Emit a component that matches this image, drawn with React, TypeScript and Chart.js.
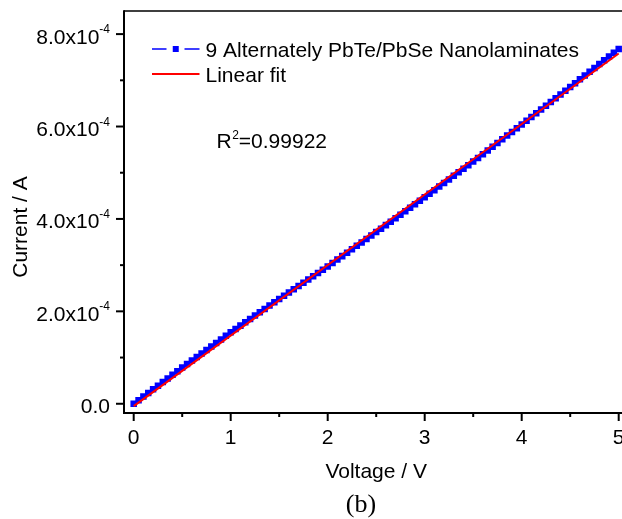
import { useEffect, useRef } from "react";
import { Chart, registerables } from "chart.js";

Chart.register(...registerables);

// Voltage (V)
const voltage = [
  0, 0.05, 0.1, 0.15, 0.2, 0.25, 0.3, 0.35, 0.4, 0.45,
  0.5, 0.55, 0.6, 0.65, 0.7, 0.75, 0.8, 0.85, 0.9, 0.95,
  1, 1.05, 1.1, 1.15, 1.2, 1.25, 1.3, 1.35, 1.4, 1.45,
  1.5, 1.55, 1.6, 1.65, 1.7, 1.75, 1.8, 1.85, 1.9, 1.95,
  2, 2.05, 2.1, 2.15, 2.2, 2.25, 2.3, 2.35, 2.4, 2.45,
  2.5, 2.55, 2.6, 2.65, 2.7, 2.75, 2.8, 2.85, 2.9, 2.95,
  3, 3.05, 3.1, 3.15, 3.2, 3.25, 3.3, 3.35, 3.4, 3.45,
  3.5, 3.55, 3.6, 3.65, 3.7, 3.75, 3.8, 3.85, 3.9, 3.95,
  4, 4.05, 4.1, 4.15, 4.2, 4.25, 4.3, 4.35, 4.4, 4.45,
  4.5, 4.55, 4.6, 4.65, 4.7, 4.75, 4.8, 4.85, 4.9, 4.95,
  5,
];

// Current (in 10^-6 A)
const current = [
  0, 7.8, 15.7, 23.5, 31.3, 39.2, 47.0, 54.8, 62.6, 70.5,
  78.3, 85.9, 93.6, 101.2, 108.8, 116.5, 124.1, 131.7, 139.3, 147.0,
  154.6, 161.8, 169.1, 176.3, 183.5, 190.8, 198.0, 205.2, 212.4, 219.7,
  226.9, 233.9, 241.0, 248.0, 255.0, 262.1, 269.1, 276.1, 283.1, 290.2,
  297.2, 304.6, 312.1, 319.5, 326.9, 334.4, 341.8, 349.2, 356.6, 364.1,
  371.5, 379.0, 386.6, 394.1, 401.6, 409.2, 416.7, 424.2, 431.7, 439.3,
  446.8, 454.5, 462.3, 470.0, 477.7, 485.5, 493.2, 500.9, 508.6, 516.4,
  524.1, 532.1, 540.2, 548.2, 556.2, 564.3, 572.3, 580.3, 588.3, 596.4,
  604.4, 612.5, 620.7, 628.8, 636.9, 645.1, 653.2, 661.3, 669.4, 677.6,
  685.7, 693.9, 702.2, 710.4, 718.6, 726.9, 735.1, 743.3, 751.5, 759.8,
  768,
];

// Linear fit end points (V, 10^-6 A)
const fitVoltage = [0, 5];
const fitCurrent = [-5, 758];

const xMajorTicks = [0, 1, 2, 3, 4, 5];
const xTickLabels = ["0", "1", "2", "3", "4", "5"];
const xMinorTicks = [0.5, 1.5, 2.5, 3.5, 4.5];

const yMajorTicks = [0, 200, 400, 600, 800];
const yTickMantissa = ["0.0", "2.0x10", "4.0x10", "6.0x10", "8.0x10"];
const yTickExponent = ["", "-4", "-4", "-4", "-4"];
const yMinorTicks = [100, 300, 500, 700];

const seriesLabel = "9 Alternately PbTe/PbSe Nanolaminates";
const fitLabel = "Linear fit";
const xTitle = "Voltage / V";
const yTitle = "Current / A";
const rSquaredValue = "=0.99922";
const panelLabel = "(b)";

const SANS = "'Liberation Sans', Arial, Helvetica, sans-serif";
const SERIF = "'Liberation Serif', 'Times New Roman', serif";

const decorPlugin = {
  id: "decor",
  afterDraw(chart: any) {
    const ctx = chart.ctx as CanvasRenderingContext2D;
    const area = chart.chartArea;
    const xs = chart.scales.x;
    const ys = chart.scales.y;
    ctx.save();
    ctx.strokeStyle = "#000";
    ctx.fillStyle = "#000";

    // frame
    ctx.lineWidth = 1.5;
    ctx.beginPath();
    ctx.moveTo(area.left, area.top);
    ctx.lineTo(area.right, area.top);
    ctx.lineTo(area.right, area.bottom);
    ctx.stroke();
    ctx.lineWidth = 2;
    ctx.beginPath();
    ctx.moveTo(area.left, area.top - 0.75);
    ctx.lineTo(area.left, area.bottom);
    ctx.lineTo(area.right, area.bottom);
    ctx.stroke();

    // y ticks
    ctx.lineWidth = 2;
    yMajorTicks.forEach((v) => {
      const y = ys.getPixelForValue(v);
      ctx.beginPath();
      ctx.moveTo(area.left - 8, y);
      ctx.lineTo(area.left, y);
      ctx.stroke();
    });
    yMinorTicks.forEach((v) => {
      const y = ys.getPixelForValue(v);
      ctx.beginPath();
      ctx.moveTo(area.left - 4, y);
      ctx.lineTo(area.left, y);
      ctx.stroke();
    });
    // x ticks
    xMajorTicks.forEach((v) => {
      const x = xs.getPixelForValue(v);
      ctx.beginPath();
      ctx.moveTo(x, area.bottom);
      ctx.lineTo(x, area.bottom + 8);
      ctx.stroke();
    });
    xMinorTicks.forEach((v) => {
      const x = xs.getPixelForValue(v);
      ctx.beginPath();
      ctx.moveTo(x, area.bottom);
      ctx.lineTo(x, area.bottom + 4);
      ctx.stroke();
    });

    // y tick labels
    const labelRight = area.left - 14;
    ctx.textBaseline = "alphabetic";
    yMajorTicks.forEach((v, i) => {
      const y = ys.getPixelForValue(v);
      const exp = yTickExponent[i];
      ctx.font = `12px ${SANS}`;
      const ew = exp ? ctx.measureText(exp).width : 0;
      if (exp) {
        ctx.textAlign = "right";
        ctx.fillText(exp, labelRight, y - 1);
      }
      ctx.font = `21px ${SANS}`;
      ctx.textAlign = "right";
      ctx.fillText(yTickMantissa[i], labelRight - ew, y + 9.5);
    });

    // x tick labels
    ctx.font = `21px ${SANS}`;
    ctx.textAlign = "center";
    xMajorTicks.forEach((v, i) => {
      const x = xs.getPixelForValue(v);
      ctx.fillText(xTickLabels[i], x, area.bottom + 31);
    });

    // axis titles
    ctx.fillText(xTitle, (area.left + area.right) / 2, area.bottom + 65);
    ctx.save();
    ctx.translate(27, (area.top + area.bottom) / 2 + 15);
    ctx.rotate(-Math.PI / 2);
    ctx.textAlign = "center";
    ctx.fillText(yTitle, 0, 0);
    ctx.restore();

    // panel label
    ctx.font = `26px ${SERIF}`;
    ctx.textAlign = "center";
    ctx.fillText(panelLabel, 361, 512);

    // legend
    const lx0 = 152;
    const lx1 = 199.5;
    const ly0 = 49;
    const ly1 = 74;
    ctx.strokeStyle = "#0000ff";
    ctx.fillStyle = "#0000ff";
    ctx.lineWidth = 1.5;
    ctx.beginPath();
    ctx.moveTo(lx0, ly0);
    ctx.lineTo(lx0 + 14.5, ly0);
    ctx.moveTo(lx1 - 15, ly0);
    ctx.lineTo(lx1, ly0);
    ctx.stroke();
    ctx.fillRect((lx0 + lx1) / 2 - 3, ly0 - 3, 6, 6);
    ctx.strokeStyle = "#ff0000";
    ctx.lineWidth = 2;
    ctx.beginPath();
    ctx.moveTo(lx0, ly1);
    ctx.lineTo(lx1, ly1);
    ctx.stroke();
    ctx.fillStyle = "#000";
    ctx.font = `21px ${SANS}`;
    ctx.textAlign = "left";
    ctx.fillText(seriesLabel, 205.5, ly0 + 7.5);
    ctx.fillText(fitLabel, 205.5, ly1 + 7.5);

    // R^2 annotation
    const rx = 216.5;
    const rb = 148;
    ctx.fillText("R", rx, rb);
    const rw = ctx.measureText("R").width;
    ctx.font = `12px ${SANS}`;
    ctx.fillText("2", rx + rw + 0.5, rb - 9.5);
    const sw = ctx.measureText("2").width;
    ctx.font = `21px ${SANS}`;
    ctx.fillText(rSquaredValue, rx + rw + sw + 0.5, rb);

    ctx.restore();
  },
};

export default function App() {
  const ref = useRef<HTMLCanvasElement | null>(null);

  useEffect(() => {
    if (!ref.current) return;
    const chart = new Chart(ref.current, {
      type: "line",
      data: {
        datasets: [
          {
            label: seriesLabel,
            data: voltage.map((v, i) => ({ x: v, y: current[i] })),
            borderColor: "#0000ff",
            backgroundColor: "#0000ff",
            borderWidth: 1.5,
            borderDash: [8, 4],
            pointStyle: "rect",
            pointRadius: 4.6,
            pointBorderWidth: 0,
            pointHoverRadius: 4.6,
            order: 2,
          },
          {
            label: fitLabel,
            data: fitVoltage.map((v, i) => ({ x: v, y: fitCurrent[i] })),
            borderColor: "#ff0000",
            backgroundColor: "#ff0000",
            borderWidth: 2,
            pointRadius: 0,
            order: 1,
          },
        ],
      },
      options: {
        responsive: false,
        animation: false,
        devicePixelRatio: 1,
        layout: { padding: { left: 124, top: 11, right: 31.6, bottom: 106 } },
        scales: {
          x: { type: "linear", min: -0.1, max: 5.1, display: false },
          y: { type: "linear", min: -20, max: 850, display: false },
        },
        plugins: {
          legend: { display: false },
          tooltip: { enabled: false },
        },
      },
      plugins: [decorPlugin],
    } as any);
    return () => chart.destroy();
  }, []);

  return (
    <div
      style={{
        position: "fixed",
        left: 0,
        top: 0,
        width: 622,
        height: 519,
        overflow: "hidden",
        background: "#fff",
      }}
    >
      <canvas ref={ref} width={660} height={519} style={{ display: "block" }} />
    </div>
  );
}
